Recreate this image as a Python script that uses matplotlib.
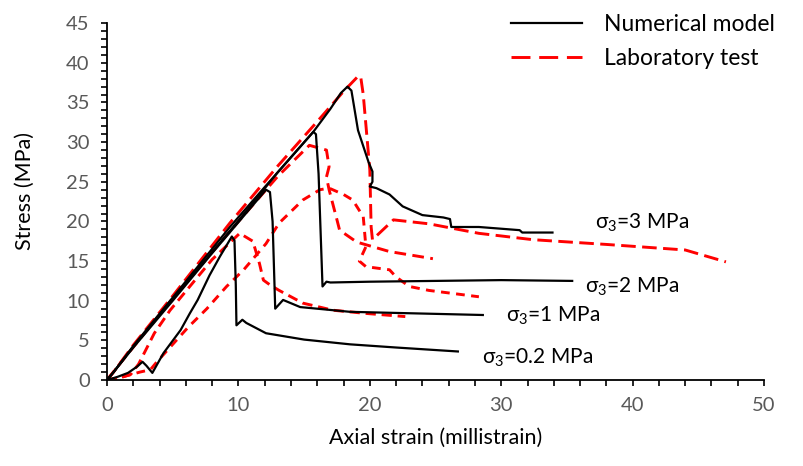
#!/usr/bin/env python3

import matplotlib
matplotlib.use("Agg")
import matplotlib.pyplot as plt
from matplotlib.ticker import MultipleLocator

plt.rcParams["font.family"] = ["Lato", "DejaVu Sans"]

# numerical model curves (strain in millistrain, stress in MPa)
num_02_strain = [0, 0.8, 1.6, 2.3, 2.7, 3.0, 3.45, 4.3, 5.6, 6.3, 6.9, 7.8, 8.6, 9.5, 9.7, 9.8, 9.85,
                 10.3, 10.6, 12.1, 15.0, 18.5, 22.0, 26.7]
num_02_stress = [0, 0.4, 0.9, 1.7, 2.3, 1.8, 0.9, 3.4, 6.3, 8.4, 10.1, 13.2, 15.6, 18.1, 17.6, 12.0, 6.9,
                 7.6, 7.2, 5.9, 5.1, 4.5, 4.1, 3.6]

num_1_strain = [0, 0.5, 2.0, 5.0, 8.0, 10.0, 12.1, 12.4, 12.6, 12.8, 13.4, 14.7, 18.5, 26.1, 28.6]
num_1_stress = [0, 1.0, 4.1, 10.0, 16.0, 19.9, 24.0, 23.7, 20.0, 9.0, 10.1, 9.2, 8.6, 8.3, 8.2]

num_2_strain = [0, 0.5, 2.0, 5.0, 10.0, 13.0, 15.7, 15.9, 16.1, 16.4, 16.7, 17.0, 20.0, 25.0, 30.0, 35.4]
num_2_stress = [0, 1.0, 4.2, 10.2, 20.1, 26.2, 31.3, 31.0, 26.0, 11.8, 12.4, 12.3, 12.4, 12.5, 12.6, 12.5]

num_3_strain = [0, 0.5, 2.0, 5.0, 9.35, 12.3, 15.7, 17.0, 17.8, 18.3, 18.6, 18.8, 19.1, 19.5, 19.9, 20.2,
                20.2, 20.0, 20.5, 21.5, 22.5, 24.0, 25.6, 26.1, 26.2, 28.3, 31.4, 31.6, 33.9]
num_3_stress = [0, 1.0, 4.3, 10.4, 19.3, 24.9, 31.3, 34.2, 36.2, 37.0, 36.5, 34.5, 31.5, 29.5, 27.5, 26.3,
                25.0, 24.4, 24.2, 23.4, 21.9, 20.8, 20.5, 20.3, 19.3, 19.3, 18.9, 18.6, 18.6]

# laboratory test curves
lab_02_strain = [0, 1.0, 1.8, 2.4, 3.6, 4.8, 6.0, 8.0, 10.1, 11.1, 11.6, 11.9, 12.4, 13.1, 14.9, 17.2,
                 19.7, 22.7]
lab_02_stress = [0, 0.3, 0.7, 2.0, 5.9, 8.8, 11.2, 15.2, 18.5, 17.5, 14.7, 12.6, 12.0, 11.3, 9.7, 8.8,
                 8.4, 8.0]

lab_1_strain = [0, 1.2, 2.5, 3.3, 3.8, 5.0, 6.2, 7.6, 9.1, 10.4, 12.1, 13.1, 14.9, 16.2, 16.9, 18.0,
                18.7, 19.5, 19.7, 19.2, 19.7, 21.5, 22.0, 23.0, 24.5, 28.3]
lab_1_stress = [0, 0.4, 1.0, 1.3, 2.3, 4.5, 6.7, 9.0, 11.8, 13.9, 17.2, 19.8, 22.7, 24.0, 24.2, 23.4,
                22.7, 20.6, 16.8, 15.0, 14.3, 13.9, 13.0, 11.8, 11.3, 10.5]

lab_2_strain = [0, 1.0, 5.0, 10.0, 13.0, 15.4, 16.7, 16.9, 16.7, 16.9, 17.5, 17.7, 19.0, 21.5, 24.8]
lab_2_stress = [0, 2.1, 10.3, 20.0, 25.7, 29.6, 29.0, 26.9, 25.6, 24.0, 20.2, 18.9, 17.4, 16.2, 15.3]

lab_3_strain = [0, 0.5, 2.0, 5.0, 9.35, 13.0, 16.0, 18.0, 19.1, 19.3, 19.5, 20.0, 20.1, 20.2, 21.8,
                24.5, 28.3, 32.4, 38.0, 44.0, 47.1]
lab_3_stress = [0, 1.0, 4.4, 10.6, 19.8, 27.0, 32.6, 36.4, 38.3, 38.3, 36.0, 26.5, 19.3, 17.7, 20.2,
                19.7, 18.5, 17.7, 17.1, 16.4, 14.9]

# confining pressure labels: text, strain, stress
label_texts = [r"σ$_{\mathregular{3}}$=3 MPa", r"σ$_{\mathregular{3}}$=2 MPa",
               r"σ$_{\mathregular{3}}$=1 MPa", r"σ$_{\mathregular{3}}$=0.2 MPa"]
label_x = [37.1, 36.4, 30.4, 28.5]
label_y = [19.1, 11.1, 7.35, 2.1]

numerical = [(num_02_strain, num_02_stress), (num_1_strain, num_1_stress),
             (num_2_strain, num_2_stress), (num_3_strain, num_3_stress)]
laboratory = [(lab_02_strain, lab_02_stress, (3.5, 2.0)), (lab_1_strain, lab_1_stress, (3.0, 2.2)),
              (lab_2_strain, lab_2_stress, (4.0, 2.2)), (lab_3_strain, lab_3_stress, (5.0, 2.2))]


def main():
    fig = plt.figure(figsize=(8.04, 4.66), dpi=100)
    ax = fig.add_axes([0.1331, 0.1845, 0.8172, 0.7657])

    for i, (xs, ys) in enumerate(numerical):
        ax.plot(xs, ys, color="black", linewidth=1.6, solid_joinstyle="round",
                label="Numerical model" if i == 0 else None, zorder=3)
    for i, (xs, ys, dash) in enumerate(laboratory):
        ax.plot(xs, ys, color="#ff0000", linewidth=2.1, linestyle=(0, dash),
                label="Laboratory test" if i == 0 else None, zorder=2)

    for text, x, y in zip(label_texts, label_x, label_y):
        ax.text(x, y, text, fontsize=15, color="black", va="baseline", ha="left")

    ax.set_xlim(0, 50)
    ax.set_ylim(0, 45)
    ax.xaxis.set_major_locator(MultipleLocator(10))
    ax.xaxis.set_minor_locator(MultipleLocator(2))
    ax.yaxis.set_major_locator(MultipleLocator(5))
    ax.yaxis.set_minor_locator(MultipleLocator(1))
    ax.tick_params(which="both", direction="out", length=4.5, width=1.2, color="black")
    ax.tick_params(axis="both", which="major", labelsize=14.5, labelcolor="#595959", pad=8)

    for side in ("top", "right"):
        ax.spines[side].set_visible(False)
    for side in ("left", "bottom"):
        ax.spines[side].set_linewidth(1.3)

    ax.set_xlabel("Axial strain (millistrain)", fontsize=15.5, labelpad=10)
    ax.set_ylabel("Stress (MPa)", fontsize=15.5)
    ax.yaxis.set_label_coords(-0.11, 0.53)

    leg = fig.legend(loc="upper right", bbox_to_anchor=(0.99, 1.015), frameon=False, fontsize=16.5,
                     handlelength=3.1, handletextpad=1.0, labelspacing=0.6)
    leg_lines = leg.get_lines()
    leg_lines[0].set_linewidth(1.6)
    leg_lines[1].set_linewidth(2.1)
    leg_lines[1].set_linestyle((0, (6.5, 3.0)))

    fig.savefig("out.png", dpi=100)
    plt.close(fig)


if __name__ == "__main__":
    main()
